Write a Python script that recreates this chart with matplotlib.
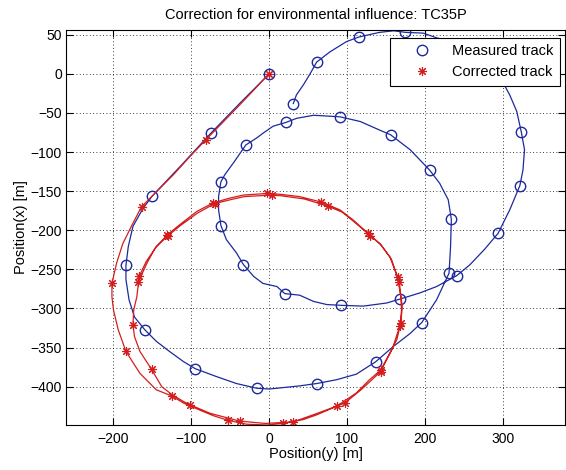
import numpy as np
import matplotlib
matplotlib.use("Agg")
import matplotlib.pyplot as plt

plt.rcParams['font.family'] = ['Liberation Sans', 'DejaVu Sans']

# measured track: line vertices (y, x in metres)
measured_track = [
    (0, 0), (-38, -38), (-75, -76), (-112, -116), (-150, -156), (-162, -172),
    (-175, -195), (-181, -221), (-184, -245), (-184, -263), (-180, -289),
    (-173, -311), (-160, -327), (-145, -342), (-128, -355), (-110, -368),
    (-95, -377), (-68, -387), (-42, -396), (-16, -402), (0, -403), (10, -402),
    (39, -399), (61, -396), (87, -391), (112, -384), (137, -368), (159, -349),
    (181, -332), (196, -318), (215, -289), (231, -255), (233, -221), (234, -186),
    (230, -161), (219, -140), (206, -123), (181, -97), (156, -78), (142, -72),
    (117, -61), (91, -55), (57, -53), (35, -57), (22, -62), (5, -67), (-8, -76),
    (-16, -82), (-30, -91), (-46, -114), (-57, -129), (-62, -138), (-65, -157),
    (-65, -174), (-62, -194), (-55, -212), (-42, -229), (-33, -244), (-20, -259),
    (-8, -268), (10, -272), (20, -281), (39, -283), (57, -291), (74, -295),
    (92, -296), (121, -297), (151, -293), (168, -288), (194, -280), (215, -272),
    (241, -258), (258, -244), (277, -224), (294, -204), (309, -174), (322, -143),
    (326, -123), (328, -97), (324, -75), (318, -48), (309, -27), (303, -16),
    (290, 5), (265, 26), (238, 40), (215, 46), (198, 52), (175, 53), (160, 55),
    (142, 53), (115, 47), (99, 41), (78, 28), (61, 15), (52, -1), (44, -14),
    (35, -27), (31, -38),
]
measured_marks = [
    (0, 0), (-75, -76), (-150, -156), (-184, -245), (-160, -327), (-95, -377),
    (-16, -402), (61, -396), (137, -368), (196, -318), (231, -255), (234, -186),
    (206, -123), (156, -78), (91, -55), (22, -62), (-30, -91), (-62, -138),
    (-62, -194), (-33, -244), (20, -281), (92, -296), (168, -288), (241, -258),
    (294, -204), (322, -143), (324, -75), (175, 53), (115, 47), (61, 15),
    (31, -38),
]

# corrected track
corrected_track = [
    (0, 0), (-40, -42), (-81, -84), (-102, -106), (-123, -129), (-145, -151),
    (-164, -170), (-175, -191), (-188, -217), (-196, -242), (-202, -268),
    (-202, -285), (-200, -302), (-194, -327), (-184, -355), (-166, -383),
    (-145, -404), (-125, -412), (-110, -421), (-89, -430), (-72, -437),
    (-53, -443), (-29, -448), (-3, -449), (18, -447), (44, -442), (61, -436),
    (87, -425), (112, -408), (129, -391), (143, -379), (155, -357), (164, -340),
    (168, -323), (170, -302), (169, -285), (165, -260), (155, -234), (142, -217),
    (127, -204), (108, -187), (91, -174), (67, -164), (39, -157), (14, -154),
    (-3, -153), (-33, -155), (-51, -159), (-72, -165), (-93, -176), (-115, -193),
    (-131, -206), (-145, -221), (-158, -240), (-167, -259),
    (-170, -285), (-174, -302), (-175, -321), (-173, -336), (-166, -355),
    (-151, -378), (-138, -400), (-125, -410), (-110, -419), (-102, -423),
    (-76, -434), (-38, -444), (-5, -447), (31, -445), (62, -434), (97, -421),
    (118, -404), (143, -381), (158, -352), (169, -319), (171, -298), (167, -266),
    (157, -237), (144, -219), (130, -207), (110, -190), (94, -177), (75, -169),
    (45, -160), (16, -156), (3, -155), (-32, -157), (-50, -161), (-70, -166),
    (-92, -178), (-114, -194), (-130, -207), (-146, -222), (-157, -242),
    (-168, -266),
]
corrected_marks = [
    (0, 0), (-81, -84), (-164, -170), (-202, -268), (-184, -355), (-125, -412),
    (-53, -443), (18, -447), (87, -425), (143, -379), (168, -323), (165, -260),
    (127, -204), (67, -164), (-3, -153), (-72, -165), (-131, -206), (-167, -259),
    (-175, -321), (-151, -378), (-102, -423), (-38, -444), (31, -445),
    (97, -421), (143, -381), (169, -319), (167, -266), (130, -207), (75, -169),
    (3, -155), (-70, -166), (-130, -207), (-168, -266),
]

x_ticks = [-200, -100, 0, 100, 200, 300]
y_ticks = [-400, -350, -300, -250, -200, -150, -100, -50, 0, 50]

blue = '#1c2a9c'
red = '#d41e1e'

fig = plt.figure(figsize=(5.66, 4.70), dpi=100)
ax = fig.add_axes([66 / 566, 45 / 470, 499 / 566, 395 / 470])

mt = np.array(measured_track).T
mm = np.array(measured_marks).T
ct = np.array(corrected_track).T
cm = np.array(corrected_marks).T

ax.plot(mt[0], mt[1], '-', color=blue, lw=0.9)
h1, = ax.plot(mm[0], mm[1], 'o', ls='none', mfc='none', mec=blue, ms=7.5, mew=1.0)
ax.plot(ct[0], ct[1], '-', color=red, lw=0.9)
h2, = ax.plot(cm[0], cm[1], marker=(8, 2, 0), ls='none', color=red, ms=6.5, mew=0.8)

ax.set_xlim(-261, 380)
ax.set_ylim(-449, 56)
ax.set_xticks(x_ticks)
ax.set_yticks(y_ticks)
ax.grid(True, color='black', ls=(0, (1, 3)), lw=0.6)
ax.tick_params(direction='in', top=True, right=True, length=5, labelsize=10)
ax.tick_params(axis='x', pad=5)
ax.tick_params(axis='y', pad=3)
for s in ax.spines.values():
    s.set_linewidth(0.8)

ax.set_title('Correction for environmental influence: TC35P', fontsize=10.5, pad=8)
ax.set_xlabel('Position(y) [m]', fontsize=10.5, labelpad=1)
ax.set_ylabel('Position(x) [m]', fontsize=10.5, labelpad=2)

leg = ax.legend([h1, h2], ['Measured track', 'Corrected track'], loc='upper right',
                bbox_to_anchor=(0.99, 0.98), borderaxespad=0, fancybox=False,
                framealpha=1, edgecolor='black', fontsize=10.5,
                handlelength=3.5, handletextpad=0.3, borderpad=0.45,
                labelspacing=0.45)
leg.get_frame().set_linewidth(0.8)

fig.savefig('out.png', dpi=100)
